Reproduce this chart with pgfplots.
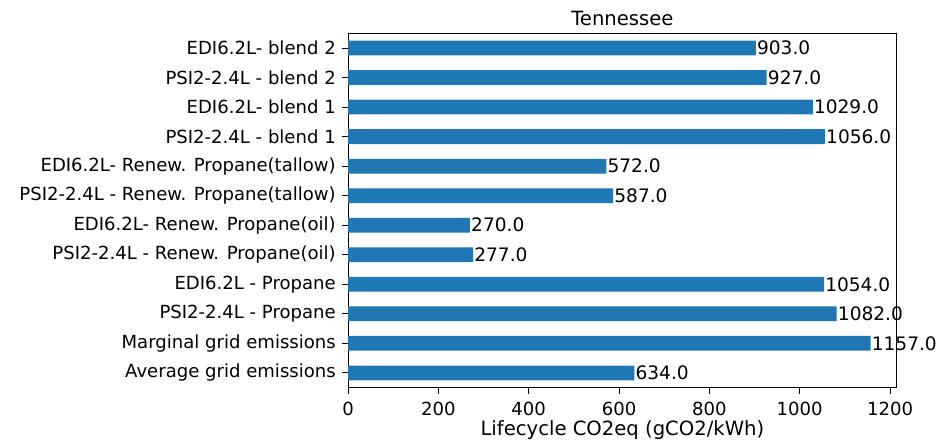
\documentclass[border=0pt]{standalone}
\usepackage{fontspec}
\setmainfont{DejaVu Sans}
\usepackage{pgfplots}
\pgfplotsset{compat=1.18}
\definecolor{mplblue}{RGB}{31,119,180}

\begin{document}
\begin{tikzpicture}
  \begin{axis}[
      scale only axis,
      width=319pt, height=206pt,
      xbar, bar width=0.5, bar shift=0pt,
      xmin=0, xmax=1215,
      ymin=-0.5, ymax=11.5,
      xtick={0,200,...,1200},
      ytick={0,...,11},
      yticklabels={Average grid emissions, Marginal grid emissions,
        PSI2-2.4L - Propane, EDI6.2L - Propane,
        PSI2-2.4L - Renew. Propane(oil), EDI6.2L- Renew. Propane(oil),
        PSI2-2.4L - Renew. Propane(tallow), EDI6.2L- Renew. Propane(tallow),
        PSI2-2.4L - blend 1, EDI6.2L- blend 1,
        PSI2-2.4L - blend 2, EDI6.2L- blend 2},
      xtick pos=lower, ytick pos=left,
      tick align=outside,
      major tick length=3.6pt,
      axis line style={line width=0.6pt},
      every tick/.style={black, line width=0.6pt},
      /pgf/number format/assume math mode=true,
      /pgf/number format/1000 sep={},
      tick label style={font=\fontsize{10.5}{12.5}\selectfont},
      xticklabel style={yshift=-1pt},
      xlabel={Lifecycle CO2eq (gCO2/kWh)},
      xlabel style={font=\fontsize{11.4}{14}\selectfont, yshift=4pt},
      title={Tennessee},
      title style={font=\fontsize{11.4}{14}\selectfont, yshift=-5pt},
      nodes near coords,
      nodes near coords align={horizontal},
      every node near coord/.append style={anchor=west, inner sep=0.5pt,
        font=\fontsize{10.8}{13}\selectfont,
        /pgf/number format/fixed, /pgf/number format/precision=1,
        /pgf/number format/fixed zerofill,
        /pgf/number format/1000 sep={}},
    ]
    \addplot[fill=mplblue, draw=none] coordinates {
      (634,0) (1157,1) (1082,2) (1054,3) (277,4) (270,5)
      (587,6) (572,7) (1056,8) (1029,9) (927,10) (903,11)};
  \end{axis}
  \path ([xshift=-8pt]current bounding box.west) ([xshift=6pt]current bounding box.east)
        ([yshift=3pt]current bounding box.north) ([yshift=3pt]current bounding box.south);
\end{tikzpicture}
\end{document}
